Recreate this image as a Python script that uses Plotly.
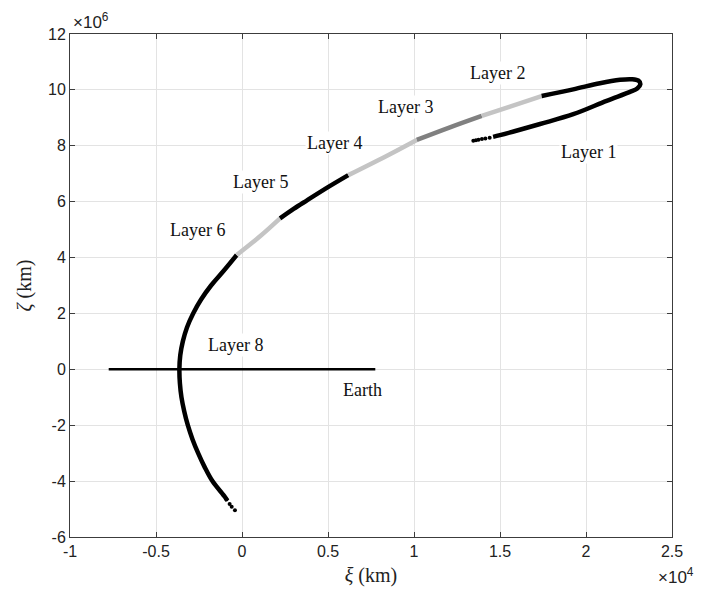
import plotly.graph_objects as go

# Trajectory segments (xi in 1e4 km, zeta in 1e6 km)
layer8_x = [-0.085, -0.099, -0.172, -0.217, -0.255, -0.288, -0.315, -0.336, -0.352, -0.361, -0.364,
            -0.359, -0.344, -0.320, -0.284, -0.238, -0.180, -0.110, -0.031]
layer8_y = [-4.70, -4.57, -4.00, -3.50, -3.00, -2.50, -2.00, -1.50, -1.00, -0.50, 0.00,
            0.50, 1.00, 1.50, 2.00, 2.50, 3.00, 3.50, 4.09]
layer6_x = [-0.031, 0.105, 0.221]
layer6_y = [4.09, 4.76, 5.40]
layer5_x = [0.221, 0.300, 0.376, 0.500, 0.618]
layer5_y = [5.40, 5.74, 6.04, 6.52, 6.95]
layer4_x = [0.618, 0.860, 1.016]
layer4_y = [6.95, 7.70, 8.21]
layer3_x = [1.016, 1.209, 1.394]
layer3_y = [8.21, 8.66, 9.07]
layer2_x = [1.394, 1.558, 1.742]
layer2_y = [9.07, 9.40, 9.78]
layer1_x = [1.742, 1.926, 2.081, 2.198, 2.265, 2.305, 2.316, 2.298, 2.256, 2.120, 1.926, 1.733, 1.500, 1.460]
layer1_y = [9.78, 10.02, 10.24, 10.36, 10.38, 10.33, 10.20, 10.05, 9.93, 9.61, 9.13, 8.78, 8.38, 8.32]
dots_x = [-0.090, -0.072, -0.060, -0.041, 1.440, 1.415, 1.395, 1.375, 1.360, 1.345]
dots_y = [-4.66, -4.82, -4.92, -5.04, 8.29, 8.26, 8.24, 8.22, 8.20, 8.18]

earth_x = [-0.775, 0.775]
earth_y = [0.0, 0.0]

label_text = ["Layer 1", "Layer 2", "Layer 3", "Layer 4", "Layer 5", "Layer 6", "Layer 8", "Earth"]
label_x = [2.017, 1.483, 0.948, 0.535, 0.110, -0.256, -0.035, 0.698]
label_y = [7.78, 10.60, 9.39, 8.10, 6.70, 4.99, 0.87, -0.74]

xticks = [-1, -0.5, 0, 0.5, 1, 1.5, 2, 2.5]
xtick_text = ["-1", "-0.5", "0", "0.5", "1", "1.5", "2", "2.5"]
yticks = [-6, -4, -2, 0, 2, 4, 6, 8, 10, 12]
ytick_text = ["-6", "-4", "-2", "0", "2", "4", "6", "8", "10", "12"]

BLACK = "#000000"
LIGHT = "#c4c4c4"
DARK = "#808080"

fig = go.Figure()
segs = [
    (layer8_x, layer8_y, BLACK),
    (layer6_x, layer6_y, LIGHT),
    (layer5_x, layer5_y, BLACK),
    (layer4_x, layer4_y, LIGHT),
    (layer3_x, layer3_y, DARK),
    (layer2_x, layer2_y, LIGHT),
    (layer1_x, layer1_y, BLACK),
]
for sx, sy, c in segs:
    fig.add_trace(go.Scatter(x=sx, y=sy, mode="lines",
                             line=dict(color=c, width=4.5, shape="spline", smoothing=1.0),
                             showlegend=False, hoverinfo="skip"))
fig.add_trace(go.Scatter(x=dots_x, y=dots_y, mode="markers",
                         marker=dict(color=BLACK, size=4), showlegend=False, hoverinfo="skip"))
fig.add_trace(go.Scatter(x=earth_x, y=earth_y, mode="lines",
                         line=dict(color=BLACK, width=2.5), showlegend=False, hoverinfo="skip"))

for t, lx, ly in zip(label_text, label_x, label_y):
    fig.add_annotation(x=lx, y=ly, text=t, showarrow=False, bgcolor="white",
                       font=dict(family="Liberation Serif", size=18, color="#111111"),
                       borderpad=1)

axis_common = dict(showgrid=True, gridcolor="#e3e3e3", gridwidth=1, zeroline=False,
                   showline=True, linecolor="#3c3c3c", linewidth=1, mirror="ticks",
                   ticks="inside", ticklen=5, tickcolor="#3c3c3c",
                   tickfont=dict(family="Liberation Sans", size=16, color="#222222"))

fig.update_xaxes(range=[-1, 2.5], tickvals=xticks, ticktext=xtick_text,
                 title=dict(text="<i>ξ</i> (km)", font=dict(family="Liberation Serif", size=20, color="#222222"), standoff=8),
                 **axis_common)
fig.update_yaxes(range=[-6, 12], tickvals=yticks, ticktext=ytick_text,
                 title=dict(text="<i>ζ</i> (km)", font=dict(family="Liberation Serif", size=20, color="#222222"), standoff=11),
                 **axis_common)

fig.add_annotation(xref="paper", yref="paper", x=0.0, y=1.0, xanchor="left", yanchor="bottom",
                   text="×10<sup>6</sup>", showarrow=False, xshift=1,
                   font=dict(family="Liberation Sans", size=17, color="#222222"))
fig.add_annotation(xref="paper", yref="paper", x=1.0, y=0.0, xanchor="right", yanchor="top",
                   text="×10<sup>4</sup>", showarrow=False, yshift=-26, xshift=24,
                   font=dict(family="Liberation Sans", size=17, color="#222222"))

fig.update_layout(width=702, height=596, paper_bgcolor="white", plot_bgcolor="white",
                  margin=dict(l=62, r=38, t=26, b=67))

fig.write_html("out.html")
